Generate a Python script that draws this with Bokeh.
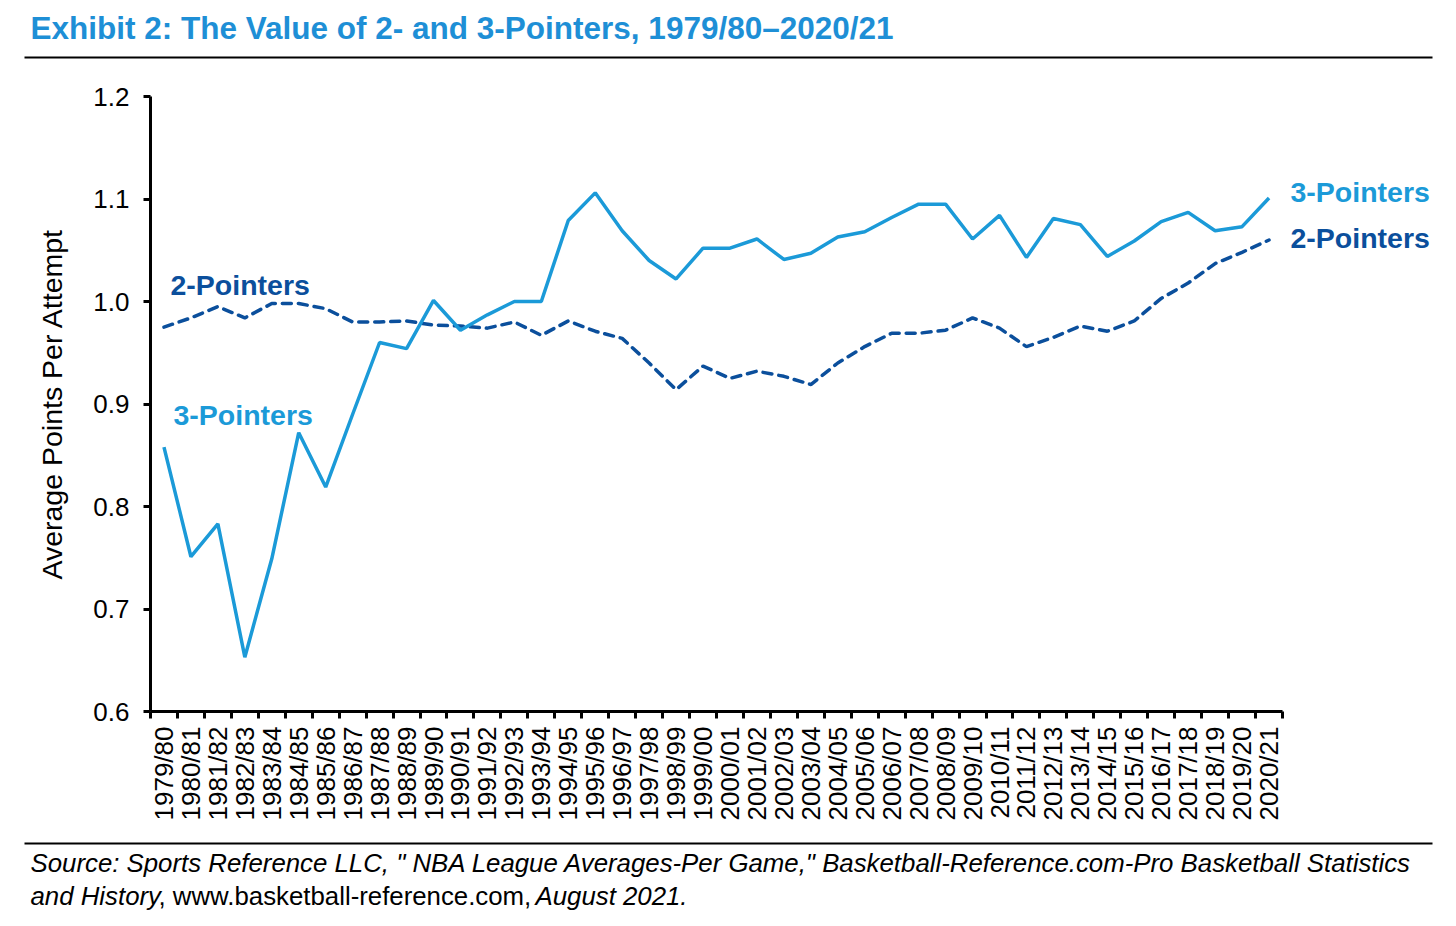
import math
from bokeh.plotting import figure
from bokeh.models import Range1d, Label, FixedTicker, LinearAxis
from bokeh.embed import file_html
from bokeh.resources import INLINE

# ---------------- data ----------------
seasons = ["1979/80", "1980/81", "1981/82", "1982/83", "1983/84", "1984/85", "1985/86",
           "1986/87", "1987/88", "1988/89", "1989/90", "1990/91", "1991/92", "1992/93",
           "1993/94", "1994/95", "1995/96", "1996/97", "1997/98", "1998/99", "1999/00",
           "2000/01", "2001/02", "2002/03", "2003/04", "2004/05", "2005/06", "2006/07",
           "2007/08", "2008/09", "2009/10", "2010/11", "2011/12", "2012/13", "2013/14",
           "2014/15", "2015/16", "2016/17", "2017/18", "2018/19", "2019/20", "2020/21"]
three_pt = [0.858, 0.751, 0.783, 0.653, 0.749, 0.872, 0.819, 0.890, 0.960, 0.954,
            1.001, 0.972, 0.987, 1.000, 1.000, 1.079, 1.106, 1.069, 1.040, 1.022,
            1.052, 1.052, 1.061, 1.041, 1.047, 1.063, 1.068, 1.082, 1.095, 1.095,
            1.061, 1.084, 1.043, 1.081, 1.075, 1.044, 1.059, 1.078, 1.087, 1.069,
            1.073, 1.101]
two_pt = [0.975, 0.984, 0.995, 0.984, 0.998, 0.998, 0.993, 0.980, 0.980, 0.981,
          0.977, 0.976, 0.974, 0.980, 0.967, 0.981, 0.971, 0.964, 0.940, 0.914,
          0.937, 0.925, 0.932, 0.927, 0.919, 0.940, 0.956, 0.969, 0.969, 0.972,
          0.984, 0.974, 0.956, 0.965, 0.976, 0.971, 0.981, 1.003, 1.018, 1.037,
          1.048, 1.060]
y_ticks = [0.6, 0.7, 0.8, 0.9, 1.0, 1.1, 1.2]

title_text = "Exhibit 2: The Value of 2- and 3-Pointers, 1979/80\u20132020/21"
source_line1 = 'Source: Sports Reference LLC, " NBA League Averages-Per Game," Basketball-Reference.com-Pro Basketball Statistics'
source_line2 = ["and History", ", www.basketball-reference.com, ", "August 2021."]

FONT = "Liberation Sans"
C3 = "#1b9ad8"
C2 = "#0b4f9c"
CT = "#1e8fd6"

# ---------------- layout (page pixels) ----------------
W, H = 1456, 926
AX_L, AX_R = 150, 1282      # x-axis extent in px
AX_T, AX_B = 96, 711        # y-axis extent in px
n = len(seasons)
x_lo, x_hi = -0.5, n - 0.5
y_lo, y_hi = y_ticks[0], y_ticks[-1]
xs = (AX_R - AX_L) / (x_hi - x_lo)
ys = (AX_B - AX_T) / (y_hi - y_lo)


def px2x(px):
    return x_lo + (px - AX_L) / xs


def px2y(py):
    return y_lo + (AX_B - py) / ys


p = figure(width=W, height=H,
           x_range=Range1d(px2x(0), px2x(W)), y_range=Range1d(px2y(H), px2y(0)),
           output_backend="svg", toolbar_location=None, min_border=0,
           outline_line_color=None, x_axis_location=None, y_axis_location=None)
p.title.visible = False
p.grid.visible = False

idx = list(range(n))
xaxis = LinearAxis(ticker=FixedTicker(ticks=idx, minor_ticks=[i - 0.5 for i in idx] + [idx[-1] + 0.5]),
                   major_label_overrides={i: s for i, s in enumerate(seasons)},
                   fixed_location=y_lo, bounds=(x_lo, x_hi))
xaxis.major_label_orientation = math.pi / 2
xaxis.major_tick_out = 0
xaxis.major_tick_in = 0
xaxis.minor_tick_out = 7
xaxis.minor_tick_in = 0
xaxis.minor_tick_line_width = 3
xaxis.axis_line_width = 3
xaxis.major_label_standoff = 8
xaxis.major_label_text_font = FONT
xaxis.major_label_text_font_size = "26px"
xaxis.major_label_text_color = "black"
p.add_layout(xaxis, "below")

yaxis = LinearAxis(ticker=FixedTicker(ticks=y_ticks, minor_ticks=[]),
                   major_label_overrides={t: f"{t:.1f}" for t in y_ticks},
                   axis_label="Average Points Per Attempt",
                   fixed_location=x_lo, bounds=(y_lo, y_hi))
yaxis.major_tick_out = 7
yaxis.major_tick_in = 0
yaxis.minor_tick_out = 0
yaxis.minor_tick_in = 0
yaxis.major_tick_line_width = 3
yaxis.axis_line_width = 3
yaxis.major_label_standoff = 14
yaxis.major_label_text_font = FONT
yaxis.major_label_text_font_size = "26px"
yaxis.major_label_text_color = "black"
yaxis.axis_label_text_font = FONT
yaxis.axis_label_text_font_size = "28.5px"
yaxis.axis_label_text_font_style = "normal"
yaxis.axis_label_text_color = "black"
yaxis.axis_label_standoff = 22
p.add_layout(yaxis, "left")

p.line(idx, two_pt, line_color=C2, line_width=3.5, line_dash="9 7", line_cap="round")
p.line(idx, three_pt, line_color=C3, line_width=3.5)

lab_kw = dict(text_font=FONT, text_font_size="28.5px", text_font_style="bold",
              text_baseline="middle", text_align="left")
p.add_layout(Label(x=px2x(170), y=px2y(284), text="2-Pointers", text_color=C2, **lab_kw))
p.add_layout(Label(x=px2x(173), y=px2y(414), text="3-Pointers", text_color=C3, **lab_kw))
p.add_layout(Label(x=px2x(1290), y=px2y(191), text="3-Pointers", text_color=C3, **lab_kw))
p.add_layout(Label(x=px2x(1290), y=px2y(237), text="2-Pointers", text_color=C2, **lab_kw))

# title and rules
p.add_layout(Label(x=px2x(30), y=px2y(27), text=title_text, text_font=FONT, text_font_size="31.5px",
                   text_font_style="bold", text_color=CT, text_baseline="middle"))
p.segment(x0=[px2x(24)], y0=[px2y(57)], x1=[px2x(1432)], y1=[px2y(57)], line_color="black", line_width=2)
p.segment(x0=[px2x(24)], y0=[px2y(843)], x1=[px2x(1432)], y1=[px2y(843)], line_color="black", line_width=2)

src_kw = dict(text_font=FONT, text_font_size="25.8px", text_color="black", text_baseline="middle")
p.add_layout(Label(x=px2x(30), y=px2y(862), text=source_line1, text_font_style="italic", **src_kw))
p.add_layout(Label(x=px2x(30), y=px2y(895), text=source_line2[0], text_font_style="italic", **src_kw))
p.add_layout(Label(x=px2x(158), y=px2y(895), text=source_line2[1], text_font_style="normal", **src_kw))
p.add_layout(Label(x=px2x(535), y=px2y(895), text=source_line2[2], text_font_style="italic", **src_kw))

open("out.html", "w").write(file_html(p, INLINE))
